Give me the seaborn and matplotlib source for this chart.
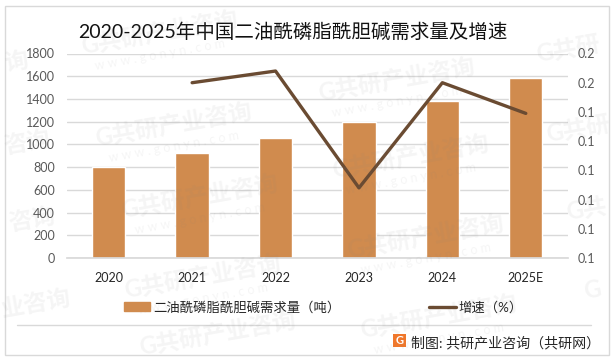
import numpy as np
import pandas as pd
import matplotlib.pyplot as plt
from matplotlib.lines import Line2D
from matplotlib.patches import Patch, Rectangle
import seaborn as sns

# Data
years = ['2020', '2021', '2022', '2023', '2024', '2025E']
demand = [800, 925, 1055, 1195, 1380, 1580]
growth = [np.nan, 0.150, 0.154, 0.114, 0.150, 0.1395]
left_ticks = [0, 200, 400, 600, 800, 1000, 1200, 1400, 1600, 1800]
right_ticks = [0.09, 0.10, 0.11, 0.12, 0.13, 0.14, 0.15, 0.16]
right_labels = ['0.1', '0.1', '0.1', '0.1', '0.1', '0.1', '0.2', '0.2']

title = '2020-2025年中国二油酰磷脂酰胆碱需求量及增速'
bar_name = '二油酰磷脂酰胆碱需求量（吨）'
line_name = '增速（%）'
source = '制图: 共研产业咨询（共研网）'
mark_text = 'G共研产业咨询'
mark_url = 'w w w . g o n y n . c o m'

W, H = 615, 360
BAR = '#D08B4E'
LINE = '#6A4B32'
GRID = '#D9D9D9'

sns.set_theme(style='white')
plt.rcParams['font.family'] = ['Lato', 'Noto Sans CJK SC', 'DejaVu Sans']

df = pd.DataFrame({'year': years, 'demand': demand, 'growth': growth, 'pos': range(len(years))})

fig = plt.figure(figsize=(W / 100, H / 100), dpi=100)
ax = fig.add_axes([67 / W, 1 - 258 / H, 500.5 / W, 204.5 / H])

sns.barplot(data=df, x='year', y='demand', color=BAR, saturation=1, width=0.4, ax=ax, zorder=2)
ax.set_xlim(-0.5, 5.5)
ax.set_ylim(0, 1800)
ax.set_yticks(left_ticks)
ax.set_xlabel('')
ax.set_ylabel('')
ax.grid(axis='y', color=GRID, lw=1)
ax.set_axisbelow(True)
sns.despine(ax=ax, left=True, right=True, top=True)
ax.spines['bottom'].set_color(GRID)
ax.tick_params(axis='y', length=0, pad=8.6, labelsize=9, labelcolor='#595959')
ax.tick_params(axis='x', length=0, pad=10, labelsize=9, labelcolor='#262626')

ax2 = ax.twinx()
sns.lineplot(data=df, x='pos', y='growth', color=LINE, lw=2.4, errorbar=None, ax=ax2, zorder=3)
ax2.set_ylim(0.09, 0.16)
ax2.set_yticks(right_ticks)
ax2.set_yticklabels(right_labels)
ax2.set_xlabel('')
ax2.set_ylabel('')
ax2.grid(False)
for s in ax2.spines.values():
    s.set_visible(False)
ax2.tick_params(axis='y', length=0, pad=7.4, labelsize=9, labelcolor='#595959')

def px(x, y):
    return x / W, 1 - y / H

# Title
fig.text(*px(78, 32), title, fontsize=14, color='#111111', va='center', ha='left')

# Outer frame and rule above the source line
fig.add_artist(Rectangle(px(4.5, 355), 604.5 / W, 349 / H, transform=fig.transFigure,
                         fill=False, ec=GRID, lw=1))
fig.add_artist(Line2D([17 / W, 591 / W], [1 - 325 / H] * 2, color=GRID, lw=1))

# Legend
handles = [Patch(color=BAR), Line2D([], [], color=LINE, lw=2.4)]
fig.legend(handles, [bar_name, line_name], loc='center', bbox_to_anchor=px(323, 307), ncol=2,
           frameon=False, fontsize=9.6, columnspacing=6.65, handlelength=2.0, handleheight=0.6,
           handletextpad=0.2, labelcolor='#262626')

# Source line with logo
fig.add_artist(Rectangle(px(393, 347), 13 / W, 13 / H, transform=fig.transFigure,
                         color='#F0772B', lw=0))
fig.text(*px(399.5, 340.5), 'G', fontsize=8, color='white', fontweight='bold', ha='center', va='center')
fig.text(*px(411, 342), source, fontsize=10.1, color='#262626', va='center', ha='left')

# Watermarks, the ones at the edges only show the part that fits
marks = [(174, 125), (160, 33), (397, 80), (411, 157), (200, 197), (426, 237),
         (203, 277), (439, 317)]
for mx, my in marks:
    fig.text(*px(mx, my), mark_text, fontsize=17, fontweight='bold', color='#808080', alpha=0.08,
             rotation=10, ha='center', va='center', zorder=5)
    fig.text(*px(mx, my + 22), mark_url, fontsize=9, color='#808080', alpha=0.08,
             rotation=10, ha='center', va='center', zorder=5)

edge_marks = [(568, 50, 'G共研'), (578, 130, 'G共研'), (586, 210, 'G共'), (592, 290, 'G'),
              (32, 220, '咨询'), (27, 143, '咨询'), (36, 303, '业咨询'), (16, 62, '询'),
              (218, 334, mark_text)]
for mx, my, part in edge_marks:
    fig.text(*px(mx, my), part, fontsize=17, fontweight='bold', color='#808080', alpha=0.08,
             rotation=10, ha='center', va='center', zorder=5)

fig.savefig('out.png', dpi=100)
